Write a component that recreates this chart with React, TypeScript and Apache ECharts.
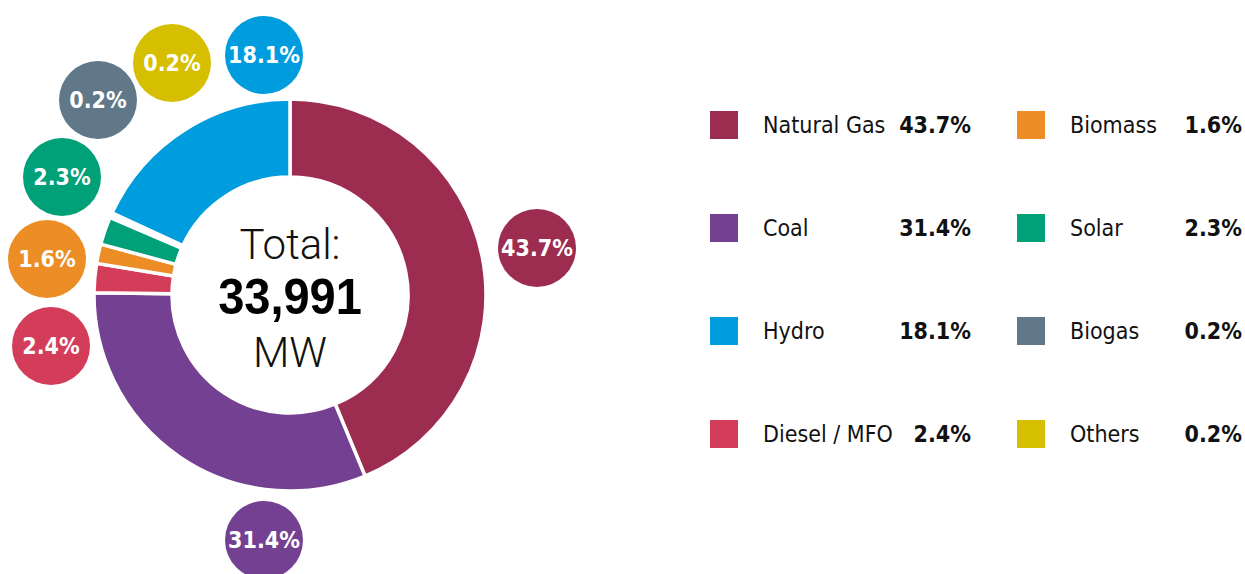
import React, { useEffect, useRef } from "react";
import * as echarts from "echarts";

const sources = ["Natural Gas", "Coal", "Diesel / MFO", "Biomass", "Solar", "Biogas", "Others", "Hydro"];
const shares = [43.7, 31.4, 2.4, 1.6, 2.3, 0.2, 0.2, 18.1];
const colors = ["#9C2D51", "#744192", "#D43D59", "#EC8D25", "#00A078", "#607888", "#D5BF00", "#009DDE"];
const legendLeft = ["Natural Gas", "Coal", "Hydro", "Diesel / MFO"];
const legendRight = ["Biomass", "Solar", "Biogas", "Others"];
const totalMW = "33,991";

// bubble label offsets from the pie centre (layout, not data)
const bubbleOffsets: [number, number][] = [
  [247, -47],
  [-26, 245],
  [-239, 51],
  [-243, -36],
  [-228, -118],
  [-192, -195],
  [-118, -232],
  [-26, -240],
];

const CX = 290;
const CY = 295;
const NARROW = "'DejaVu Sans Condensed', 'Liberation Sans Narrow', sans-serif";
const LIGHT = "Roboto, 'Liberation Sans', Arial, sans-serif";

export default function App() {
  const ref = useRef<HTMLDivElement>(null);
  useEffect(() => {
    document.body.style.margin = "0";
    const chart = echarts.init(ref.current!, null, { renderer: "svg" });
    const shareOf = (n: string) => shares[sources.indexOf(n)];
    const legendCommon = (left: number, data: string[], nameW: number, valW: number) => ({
      left,
      top: 109,
      padding: 0,
      orient: "vertical",
      icon: "rect",
      itemWidth: 30,
      itemHeight: 30,
      itemGap: 71,
      selectedMode: false,
      data,
      formatter: (name: string) => `{s|}{n|${name}}{v|${shareOf(name).toFixed(1)}%}`,
      textStyle: {
        rich: {
          s: { width: 19 },
          n: { width: nameW, fontSize: 23, fontFamily: NARROW, color: "#111", lineHeight: 30 },
          v: { width: valW, align: "right", fontSize: 23, fontWeight: "bold", fontFamily: NARROW, color: "#111", lineHeight: 30 },
        },
      },
    });
    chart.setOption({
      animation: false,
      legend: [legendCommon(708, legendLeft, 120, 88), legendCommon(1015, legendRight, 100, 72)],
      graphic: [
        { type: "text", x: CX, y: 244, style: { text: "Total:", fontSize: 42, fontWeight: 300, fontFamily: LIGHT, fill: "#111", align: "center", verticalAlign: "middle" } },
        { type: "text", x: CX, y: 296, scaleX: 0.94, style: { text: totalMW, fontSize: 50, fontWeight: "bold", fontFamily: "'Liberation Sans', Arial, sans-serif", fill: "#000", align: "center", verticalAlign: "middle" } },
        { type: "text", x: CX, y: 352, style: { text: "MW", fontSize: 42, fontWeight: 300, fontFamily: LIGHT, fill: "#111", align: "center", verticalAlign: "middle" } },
      ],
      series: [
        {
          type: "pie",
          center: [CX, CY],
          radius: [118, 196],
          startAngle: 90,
          clockwise: true,
          avoidLabelOverlap: false,
          itemStyle: { borderColor: "#fff", borderWidth: 3.5 },
          emphasis: { disabled: true },
          labelLine: { show: false },
          label: {
            show: true,
            position: "outside",
            formatter: (p: any) => `${Number(p.value).toFixed(1)}%`,
            color: "#fff",
            fontSize: 23,
            fontWeight: "bold",
            fontFamily: NARROW,
            width: 78,
            height: 78,
            lineHeight: 78,
            borderRadius: 39,
            overflow: "none",
            align: "center",
          },
          labelLayout: (params: any) => {
            const [dx, dy] = bubbleOffsets[params.dataIndex];
            return { x: CX + dx, y: CY + dy, align: "center", verticalAlign: "middle", hideOverlap: false };
          },
          data: sources.map((name, i) => ({
            name,
            value: shares[i],
            itemStyle: { color: colors[i] },
            label: { backgroundColor: colors[i] },
          })),
        },
      ],
    });
    return () => chart.dispose();
  }, []);
  return <div ref={ref} style={{ width: 1245, height: 574 }} />;
}
